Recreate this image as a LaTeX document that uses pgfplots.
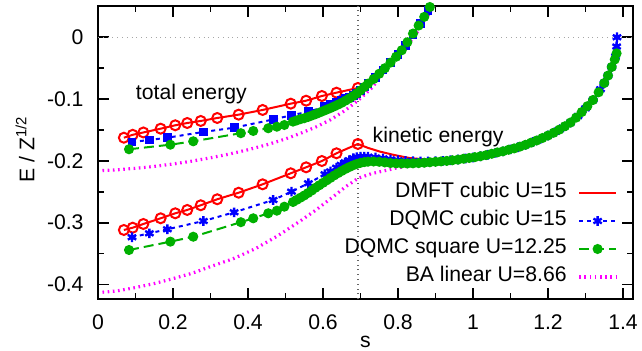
\documentclass[border=0pt]{standalone}
\usepackage{fontspec}
\setmainfont{Liberation Sans}
\usepackage{pgfplots}
\pgfplotsset{compat=1.18}
\definecolor{gpgreen}{RGB}{0,176,0}
\definecolor{gpmag}{RGB}{255,0,255}
\begin{document}
\fontsize{10.6}{12.7}\selectfont
\begin{tikzpicture}
\begin{axis}[
  at={(0,0)}, anchor=south west,
  scale only axis, width=267.5pt, height=146.5pt,
  xmin=0, xmax=1.4267, ymin=-0.4235, ymax=0.0506,
  xtick={0,0.2,0.4,0.6,0.8,1,1.2,1.4},
  ytick={-0.4,-0.3,-0.2,-0.1,0},
  minor x tick num=1, minor y tick num=1,
  tick align=inside, xtick pos=both, ytick pos=both,
  xticklabel pos=lower, yticklabel pos=left,
  major tick length=5.6pt, minor tick length=2.8pt,
  axis line style={line width=1pt},
  every tick/.style={black, line width=0.9pt},
  /pgf/number format/assume math mode=true,
  yticklabel style={xshift=-3.5pt},
  xticklabel style={yshift=-4pt},
  extra x ticks={0.6931}, extra x tick labels={},
  extra x tick style={major tick length=0pt, grid=major, major grid style={black!60, dotted, line width=0.6pt}},
  extra y ticks={0}, extra y tick labels={},
  extra y tick style={major tick length=0pt, grid=major, major grid style={black!35, dotted, line width=0.6pt}},
  every axis x label/.style={at={(axis description cs:0.5,0)}, anchor=center, yshift=-21.5pt, inner sep=0pt},
  every axis y label/.style={at={(axis description cs:-0.1364,0.512)}, anchor=center, rotate=90},
  xlabel={s}, ylabel={E / Z\textsuperscript{1/2}},
  legend style={at={(0.972,0.411)}, anchor=north east, draw=none, fill=none, inner sep=0pt,
    row sep=0pt, column sep=4pt, nodes={inner sep=1.5pt, text height=8pt, text depth=3pt}},
  legend cell align=right, legend plot pos=right,
  legend image code/.code={\draw[mark repeat=2,mark phase=2,#1] plot coordinates {(0pt,0pt) (9.2pt,0pt) (18.4pt,0pt)};},
]
% ---------------- DMFT cubic U=15 (red)
\addplot[red, line width=1pt, line join=round, forget plot] coordinates {
(0.069,-0.1625)(0.0925,-0.1578)(0.121,-0.154)(0.167,-0.1479)(0.206,-0.1424)(0.238,-0.1387)
(0.274,-0.1354)(0.318,-0.1306)(0.375,-0.1252)(0.439,-0.1176)(0.514,-0.1074)(0.555,-0.1026)
(0.597,-0.095)(0.636,-0.0896)(0.693,-0.082)(0.71,-0.0775)(0.734,-0.067)(0.76,-0.053)
(0.78,-0.041)(0.80,-0.028)(0.82,-0.013)(0.84,0.004)(0.86,0.022)(0.88,0.043)(0.90,0.066)};
\addplot[red, only marks, mark=o, mark size=2.5pt, mark options={line width=1pt}, forget plot] coordinates {
(0.069,-0.1625)(0.0925,-0.1578)(0.121,-0.154)(0.167,-0.1479)(0.206,-0.1424)(0.238,-0.1387)
(0.274,-0.1354)(0.318,-0.1306)(0.375,-0.1252)(0.439,-0.1176)(0.514,-0.1074)(0.555,-0.1026)
(0.597,-0.095)(0.636,-0.0896)(0.693,-0.082)};
\addplot[red, only marks, mark=o, mark size=2.5pt, mark options={line width=1pt}, forget plot] coordinates {
(0.069,-0.3118)(0.0925,-0.3081)(0.121,-0.3021)(0.167,-0.2929)(0.206,-0.2848)(0.238,-0.2794)
(0.274,-0.2718)(0.318,-0.2621)(0.375,-0.2515)(0.439,-0.2379)(0.514,-0.2201)(0.555,-0.2104)
(0.597,-0.2002)(0.636,-0.1877)(0.693,-0.1726)};
\addplot[red, line width=1pt, line join=round] coordinates {
(0.069,-0.3118)(0.0925,-0.3081)(0.121,-0.3021)(0.167,-0.2929)(0.206,-0.2848)(0.238,-0.2794)
(0.274,-0.2718)(0.318,-0.2621)(0.375,-0.2515)(0.439,-0.2379)(0.514,-0.2201)(0.555,-0.2104)
(0.597,-0.2002)(0.636,-0.1877)(0.693,-0.1726)(0.72,-0.179)(0.752,-0.185)(0.79,-0.1905)
(0.832,-0.1955)(0.88,-0.198)(0.93,-0.1985)(0.98,-0.196)(1.02,-0.1925)(1.04,-0.190)(1.06,-0.187)
(1.08,-0.1845)(1.10,-0.1815)(1.12,-0.178)(1.14,-0.174)(1.16,-0.1695)(1.18,-0.1645)(1.20,-0.159)
(1.22,-0.153)(1.24,-0.146)(1.26,-0.138)(1.28,-0.1275)(1.30,-0.115)(1.32,-0.1015)(1.34,-0.084)
(1.36,-0.062)(1.38,-0.031)(1.386,-0.012)};
\addlegendentry{DMFT cubic U=15}
% ---------------- DQMC cubic U=15 (blue)
\addplot[blue, line width=1pt, dash pattern=on 2pt off 2pt, mark=square*, mark size=1.7pt, mark options={solid}, forget plot] coordinates {
(0.0907,-0.1694)(0.137,-0.1662)(0.185,-0.1625)(0.281,-0.1532)(0.363,-0.1463)(0.467,-0.1330)
(0.516,-0.1262)(0.561,-0.1205)(0.605,-0.1125)(0.62,-0.109)(0.636,-0.1055)(0.648,-0.1025)
(0.659,-0.0995)(0.67,-0.097)(0.681,-0.094)(0.69,-0.0905)(0.70,-0.086)(0.71,-0.0805)(0.72,-0.075)
(0.74,-0.065)(0.76,-0.053)(0.78,-0.041)(0.80,-0.028)(0.82,-0.013)(0.84,0.004)(0.86,0.022)
(0.88,0.043)(0.90,0.066)};
\addplot[blue, line width=1pt, dash pattern=on 2pt off 2pt, mark=asterisk, mark size=2.4pt, mark options={solid, line width=1.2pt}] coordinates {
(0.0907,-0.3236)(0.137,-0.3172)(0.185,-0.3107)(0.281,-0.2973)(0.363,-0.2832)(0.467,-0.2633)
(0.516,-0.2498)(0.561,-0.2362)(0.605,-0.2217)(0.62,-0.217)(0.636,-0.211)(0.648,-0.2065)
(0.659,-0.2023)(0.67,-0.199)(0.681,-0.1958)(0.69,-0.194)(0.70,-0.1932)(0.71,-0.193)(0.72,-0.1932)
(0.74,-0.1945)(0.76,-0.196)(0.78,-0.1975)(0.80,-0.199)(0.82,-0.2)(0.84,-0.2005)(0.86,-0.2008)
(0.88,-0.2008)(0.90,-0.2005)(0.92,-0.2)(0.94,-0.199)(0.96,-0.1978)(0.98,-0.1962)(1.00,-0.1945)
(1.02,-0.1925)(1.04,-0.190)(1.06,-0.187)(1.08,-0.1845)(1.10,-0.1815)(1.12,-0.178)(1.14,-0.174)
(1.16,-0.1695)(1.18,-0.1645)(1.20,-0.159)(1.22,-0.153)(1.24,-0.146)(1.26,-0.138)(1.28,-0.1275)
(1.30,-0.115)(1.32,-0.1015)(1.34,-0.084)(1.35,-0.074)(1.36,-0.062)(1.37,-0.048)(1.38,-0.031)
(1.383,-0.015)(1.384,0.0)};
\addlegendentry{DQMC cubic U=15}
% ---------------- DQMC square U=12.25 (green)
\addplot[gpgreen, line width=1pt, dash pattern=on 5pt off 2.5pt, mark=*, mark size=2pt, mark options={solid}, forget plot] coordinates {
(0.0827,-0.1812)(0.193,-0.1738)(0.254,-0.1683)(0.381,-0.1552)(0.414,-0.1516)(0.454,-0.1472)
(0.477,-0.1447)(0.497,-0.1419)(0.52,-0.1365)(0.53,-0.1345)(0.54,-0.1325)(0.55,-0.131)(0.56,-0.129)
(0.57,-0.1267)(0.58,-0.1245)(0.59,-0.122)(0.60,-0.1195)(0.61,-0.117)(0.62,-0.1145)(0.63,-0.1118)
(0.64,-0.109)(0.65,-0.106)(0.66,-0.1025)(0.67,-0.099)(0.68,-0.095)(0.69,-0.091)(0.70,-0.086)
(0.71,-0.0805)(0.72,-0.075)(0.735,-0.0675)(0.75,-0.059)(0.765,-0.050)(0.78,-0.041)(0.795,-0.0315)
(0.81,-0.021)(0.825,-0.008)(0.84,0.006)(0.855,0.019)(0.87,0.033)(0.885,0.049)(0.90,0.066)};
\addplot[gpgreen, line width=1pt, dash pattern=on 5pt off 2.5pt, mark=*, mark size=2pt, mark options={solid}] coordinates {
(0.0827,-0.3442)(0.193,-0.3307)(0.254,-0.3227)(0.381,-0.2992)(0.414,-0.2929)(0.454,-0.2848)
(0.477,-0.2806)(0.497,-0.2741)(0.52,-0.2665)(0.53,-0.263)(0.54,-0.2595)(0.55,-0.256)(0.56,-0.252)
(0.57,-0.248)(0.58,-0.2435)(0.59,-0.2395)(0.60,-0.2355)(0.61,-0.2315)(0.62,-0.2275)(0.63,-0.2235)
(0.64,-0.2198)(0.65,-0.2163)(0.66,-0.213)(0.67,-0.2100)(0.68,-0.2073)(0.69,-0.205)(0.70,-0.2032)
(0.71,-0.202)(0.72,-0.2013)(0.735,-0.201)(0.75,-0.2015)(0.765,-0.2025)(0.78,-0.2035)(0.795,-0.204)
(0.81,-0.2042)(0.825,-0.2042)(0.84,-0.204)(0.855,-0.2036)(0.87,-0.203)(0.885,-0.2022)(0.90,-0.2015)
(0.915,-0.2008)(0.93,-0.2)(0.945,-0.199)(0.96,-0.198)(0.975,-0.1965)(0.99,-0.1953)(1.005,-0.194)
(1.02,-0.1925)(1.035,-0.1907)(1.05,-0.1885)(1.065,-0.1863)(1.08,-0.1845)(1.095,-0.182)(1.11,-0.1798)
(1.125,-0.177)(1.14,-0.174)(1.155,-0.1705)(1.17,-0.167)(1.185,-0.163)(1.20,-0.159)(1.215,-0.1545)
(1.23,-0.1495)(1.245,-0.144)(1.26,-0.138)(1.275,-0.130)(1.29,-0.121)(1.305,-0.1115)(1.32,-0.1015)
(1.335,-0.089)(1.35,-0.074)(1.36,-0.062)(1.37,-0.048)(1.378,-0.036)(1.383,-0.026)};
\addlegendentry{DQMC square U=12.25}
% ---------------- BA linear U=8.66 (magenta)
\addplot[gpmag, line width=1.6pt, dash pattern=on 0.8pt off 1.8pt, forget plot] coordinates {
(0.012,-0.2155)(0.05,-0.2145)(0.1,-0.212)(0.15,-0.209)(0.2,-0.205)(0.25,-0.2005)(0.3,-0.195)
(0.35,-0.189)(0.4,-0.182)(0.45,-0.174)(0.5,-0.1645)(0.54,-0.1555)(0.58,-0.1455)(0.62,-0.1335)
(0.66,-0.118)(0.694,-0.102)(0.73,-0.082)(0.76,-0.059)(0.79,-0.037)(0.82,-0.016)(0.84,-0.001)
(0.86,0.016)(0.88,0.035)(0.90,0.056)};
\addplot[gpmag, line width=1.6pt, dash pattern=on 0.8pt off 1.8pt] coordinates {
(0.012,-0.4125)(0.05,-0.4105)(0.1,-0.405)(0.15,-0.3985)(0.2,-0.3905)(0.25,-0.382)(0.3,-0.371)
(0.36,-0.3585)(0.42,-0.342)(0.48,-0.321)(0.54,-0.297)(0.58,-0.28)(0.627,-0.258)(0.66,-0.242)
(0.694,-0.228)(0.73,-0.2205)(0.76,-0.2165)(0.8,-0.211)(0.85,-0.2065)(0.9,-0.2045)(0.94,-0.2025)
(0.98,-0.2)(1.02,-0.1965)(1.06,-0.1915)(1.1,-0.1855)(1.14,-0.1775)(1.18,-0.1675)(1.22,-0.155)
(1.26,-0.1395)(1.29,-0.1245)(1.32,-0.1045)(1.345,-0.081)(1.365,-0.057)(1.38,-0.035)(1.385,-0.022)};
\addlegendentry{BA linear U=8.66}
\node at (axis cs:0.249,-0.0917) {total energy};
\node at (axis cs:0.907,-0.162) {kinetic energy};
\end{axis}
\pgfresetboundingbox
\path (-49pt,-25.5pt) rectangle (272pt,149.5pt);
\end{tikzpicture}
\end{document}
